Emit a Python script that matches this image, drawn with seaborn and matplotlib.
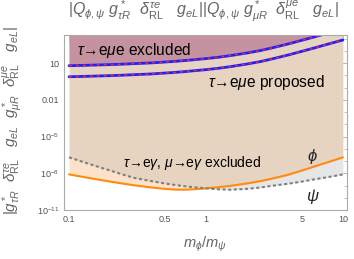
import numpy as np
import pandas as pd
import matplotlib
matplotlib.use("Agg")
import matplotlib.pyplot as plt
import seaborn as sns

# --- data (log10 of the coupling bound) ---
mass_ratio = [0.1, 0.12, 0.15, 0.2, 0.25, 0.3, 0.4, 0.5, 0.6, 0.7, 0.8, 1.0,
              1.25, 1.5, 2.0, 2.5, 3.0, 4.0, 5.0, 6.0, 7.0, 8.0, 10.0]
log_tmee_proposed = [-0.12, -0.10, -0.07, -0.03, 0.01, 0.05, 0.11, 0.18, 0.24, 0.30, 0.36, 0.46,
                     0.58, 0.70, 0.92, 1.12, 1.32, 1.66, 1.95, 2.19, 2.40, 2.58, 2.88]
log_tmee_excluded = [0.78, 0.80, 0.83, 0.87, 0.91, 0.95, 1.01, 1.08, 1.14, 1.20, 1.26, 1.36,
                     1.48, 1.60, 1.82, 2.02, 2.22, 2.56, 2.85, 3.09, 3.30, 3.48, 3.78]
log_phi = [-8.09, -8.25, -8.44, -8.68, -8.85, -8.98, -9.16, -9.27, -9.33, -9.34, -9.31, -9.23,
           -9.13, -9.03, -8.83, -8.64, -8.45, -8.12, -7.78, -7.50, -7.26, -7.05, -6.70]
log_psi = [-6.70, -6.99, -7.34, -7.78, -8.12, -8.38, -8.64, -8.83, -8.96, -9.06, -9.13, -9.23,
           -9.31, -9.34, -9.27, -9.16, -9.03, -8.85, -8.68, -8.52, -8.40, -8.29, -8.09]

ytick_vals = [1e-11, 1e-8, 1e-5, 1e-2, 1e1]
ytick_labels = [r"$10^{-11}$", r"$10^{-8}$", r"$10^{-5}$", "0.01", "10"]
xtick_vals = [0.1, 0.5, 1, 5, 10]
xtick_labels = ["0.1", "0.5", "1", "5", "10"]

df = pd.DataFrame({
    "r": mass_ratio,
    "prop": 10.0 ** np.array(log_tmee_proposed),
    "excl": 10.0 ** np.array(log_tmee_excluded),
    "phi": 10.0 ** np.array(log_phi),
    "psi": 10.0 ** np.array(log_psi),
})

sns.set_style("white")
plt.rcParams["font.family"] = ["Liberation Sans", "DejaVu Sans"]
plt.rcParams["mathtext.fontset"] = "custom"
plt.rcParams["mathtext.rm"] = "Liberation Sans"
plt.rcParams["mathtext.it"] = "Liberation Sans:italic"
plt.rcParams["mathtext.bf"] = "Liberation Sans:bold"

fig = plt.figure(figsize=(3.54, 2.59), dpi=100)
ax = fig.add_axes([0.181, 0.189, 0.799, 0.676])

ymin, ymax = 1e-11, 10 ** 3.29
ax.set_xscale("log")
ax.set_yscale("log")
ax.set_xlim(0.092, 10.7)
ax.set_ylim(ymin, ymax)

# overlapping exclusion regions
upper = np.maximum(df["phi"], df["psi"])
ax.fill_between(df["r"], df["phi"], df["psi"], where=df["phi"] <= df["psi"],
                color="#fde2c9", lw=0, interpolate=True)
ax.fill_between(df["r"], df["psi"], df["phi"], where=df["psi"] <= df["phi"],
                color="#e6e6e6", lw=0, interpolate=True)
ax.fill_between(df["r"], upper, ymax, color="#e6d3c0", lw=0)
ax.fill_between(df["r"], df["excl"], ymax, color="#c5939f", lw=0)

# tau -> e mu e lines: blue with red dashes on top
for col in ["excl", "prop"]:
    sns.lineplot(data=df, x="r", y=col, ax=ax, color="#2020ff", lw=2.0)
    sns.lineplot(data=df, x="r", y=col, ax=ax, color="#ff2a2a", lw=1.0,
                 linestyle=(0, (2, 3)))

sns.lineplot(data=df, x="r", y="phi", ax=ax, color="#ff8a10", lw=1.5)
sns.lineplot(data=df, x="r", y="psi", ax=ax, color="#808080", lw=1.5,
             linestyle=(0, (1.5, 1.2)))

txt = dict(color="black", va="center", ha="left")
ax.text(0.115, 10 ** 2.06, r"$\tau$→e$\mu$e excluded", fontsize=11.2, **txt)
ax.text(1.03, 10 ** -0.55, r"$\tau$→e$\mu$e proposed", fontsize=11.2, **txt)
ax.text(0.248, 10 ** -7.16, r"$\tau$→e$\gamma$, $\mu$→e$\gamma$ excluded", fontsize=10, **txt)
ax.text(5.94, 10 ** -6.67, r"$\phi$", fontsize=12, ha="center", va="center")
ax.text(6.0, 10 ** -9.86, r"$\psi$", fontsize=12, ha="center", va="center")

ax.set_xticks(xtick_vals)
ax.set_xticklabels(xtick_labels)
ax.set_xticks([0.2, 0.3, 0.4, 0.6, 0.7, 0.8, 0.9, 2, 3, 4, 6, 7, 8, 9], minor=True)
ax.set_yticks(ytick_vals)
ax.set_yticklabels(ytick_labels)
ax.set_yticks([10.0 ** k for k in range(-11, 4)], minor=True)
ax.yaxis.set_minor_formatter(matplotlib.ticker.NullFormatter())
ax.xaxis.set_minor_formatter(matplotlib.ticker.NullFormatter())
ax.tick_params(which="both", direction="in", top=True, right=True,
               labelsize=6.5, labelcolor="#555555", color="#aaaaaa")
ax.tick_params(which="major", length=4, width=0.6)
ax.tick_params(which="minor", length=2, width=0.5)
for s in ax.spines.values():
    s.set_color("#aaaaaa")
    s.set_linewidth(0.8)
ax.set_xlabel("")
ax.set_ylabel("")

grey = "#666666"
fig.text(0.575, 0.955,
         r"$|Q_{\phi,\psi}\ g^*_{\tau R}\ \ \delta^{\tau e}_{\rm RL}\ \ \ g_{e L}||Q_{\phi,\psi}\ g^*_{\mu R}\ \ \delta^{\mu e}_{\rm RL}\ \ \ g_{e L}|$",
         fontsize=11.5, color=grey, ha="center", va="center")
fig.text(0.037, 0.535,
         r"$|g^*_{\tau R}\ \ \delta^{\tau e}_{\rm RL}\ \ \ g_{e L}\ \ g^*_{\mu R}\ \ \delta^{\mu e}_{\rm RL}\ \ \ g_{e L}|$",
         fontsize=11, color=grey, ha="center", va="center", rotation=90)
fig.text(0.58, 0.055, r"$m_\phi/m_\psi$", fontsize=10.5, color=grey, ha="center", va="center")

fig.savefig("out.png", dpi=100)
